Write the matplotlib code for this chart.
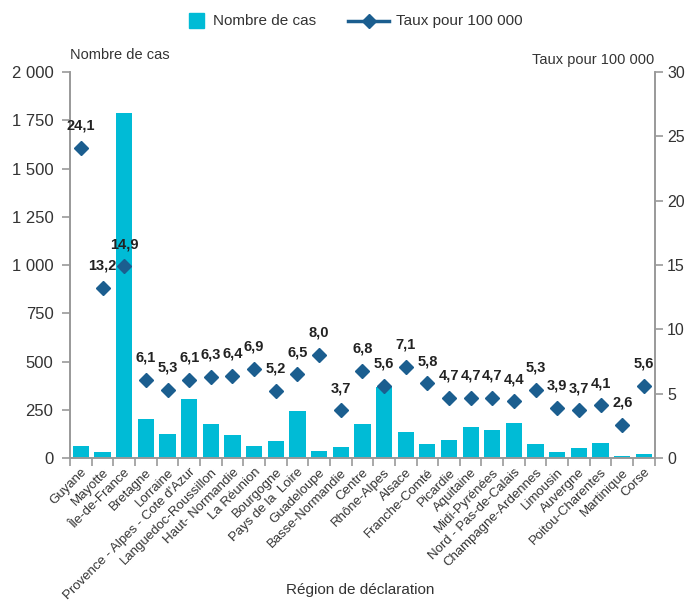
import numpy as np
import matplotlib.pyplot as plt
from matplotlib.lines import Line2D
from matplotlib.patches import Rectangle

plt.rcParams['font.family'] = ['Liberation Sans', 'DejaVu Sans']

regions = ["Guyane", "Mayotte", "Île-de-France", "Bretagne", "Lorraine",
           "Provence - Alpes - Cote d'Azur", "Languedoc-Roussillon", "Haut- Normandie",
           "La Réunion", "Bourgogne", "Pays de la  Loire", "Guadeloupe", "Basse-Normandie",
           "Centre", "Rhône-Alpes", "Alsace", "Franche-Comté", "Picardie", "Aquitaine",
           "Midi-Pyrénées", "Nord - Pas-de-Calais", "Champagne-Ardennes", "Limousin",
           "Auvergne", "Poitou-Charentes", "Martinique", "Corse"]
cas = [61, 31, 1787, 202, 124, 305, 178, 119, 62, 88, 243, 35, 57,
       178, 368, 135, 74, 93, 160, 145, 181, 74, 31, 53, 79, 10, 22]
taux = [24.1, 13.2, 14.9, 6.1, 5.3, 6.1, 6.3, 6.4, 6.9, 5.2, 6.5, 8.0, 3.7,
        6.8, 5.6, 7.1, 5.8, 4.7, 4.7, 4.7, 4.4, 5.3, 3.9, 3.7, 4.1, 2.6, 5.6]

bar_col = '#00BBD6'
mk_col = '#1B5E8F'
grey = '#999999'
txt = '#333333'

W, H = 687, 601
fig = plt.figure(figsize=(W / 100, H / 100), dpi=100)
ax = fig.add_axes([0.102, 0.238, 0.851, 0.642])
ax2 = ax.twinx()

x = np.arange(len(regions))
ax.bar(x, cas, width=0.75, color=bar_col, zorder=2)
ax2.plot(x, taux, linestyle='none', marker='D', markersize=7.5, color=mk_col, zorder=3)
for xi, t in zip(x, taux):
    ax2.annotate(('%.1f' % t).replace('.', ','), (xi, t), xytext=(0, 16),
                 textcoords='offset points', ha='center', va='center',
                 fontsize=10.5, fontweight='bold', color='#222222')

ax.set_xlim(-0.5, len(regions) - 0.5)
ax.set_ylim(0, 2000)
ax2.set_ylim(0, 30)
ax.set_yticks(np.arange(0, 2001, 250))
ax.set_yticklabels(['{:,}'.format(v).replace(',', ' ') for v in range(0, 2001, 250)])
ax2.set_yticks(np.arange(0, 31, 5))

ax.set_xticks(x)
ax.set_xticklabels(regions, rotation=45, ha='right', rotation_mode='anchor', fontsize=9.5, color=txt)
ax.set_xticks(np.arange(-0.5, len(regions), 1), minor=True)
ax.tick_params(axis='x', which='major', length=0, pad=6)
ax.tick_params(axis='x', which='minor', length=6, color=grey, width=1.2)

for a in (ax, ax2):
    a.spines['top'].set_visible(False)
    for s in ('left', 'right', 'bottom'):
        a.spines[s].set_color(grey)
        a.spines[s].set_linewidth(1.2)
ax.tick_params(axis='y', length=6, color=grey, labelsize=12, labelcolor=txt, width=1.2, pad=6)
ax2.tick_params(axis='y', length=6, color=grey, labelsize=11.5, labelcolor=txt, width=1.2, pad=3)

fig.text(0.102, 0.908, 'Nombre de cas', fontsize=10.5, color=txt, ha='left', va='center')
fig.text(0.953, 0.900, 'Taux pour 100 000', fontsize=10.5, color=txt, ha='right', va='center')
fig.text(0.525, 0.018, 'Région de déclaration', fontsize=11, color=txt, ha='center', va='center')

# legend drawn by hand, in figure pixels
ly = 1 - 21 / H
fig.patches.append(Rectangle((189 / W, 1 - 28 / H), 15 / W, 15 / H, color=bar_col,
                             transform=fig.transFigure, figure=fig))
fig.text(213 / W, ly, 'Nombre de cas', fontsize=11, color=txt, ha='left', va='center')
fig.lines.append(Line2D([348 / W, 389 / W], [ly, ly], color=mk_col, linewidth=2.5,
                        transform=fig.transFigure, figure=fig))
fig.lines.append(Line2D([368.5 / W], [ly], color=mk_col, marker='D', markersize=7.5,
                        transform=fig.transFigure, figure=fig))
fig.text(396 / W, ly, 'Taux pour 100 000', fontsize=11, color=txt, ha='left', va='center')

fig.savefig('out.png', dpi=100)
